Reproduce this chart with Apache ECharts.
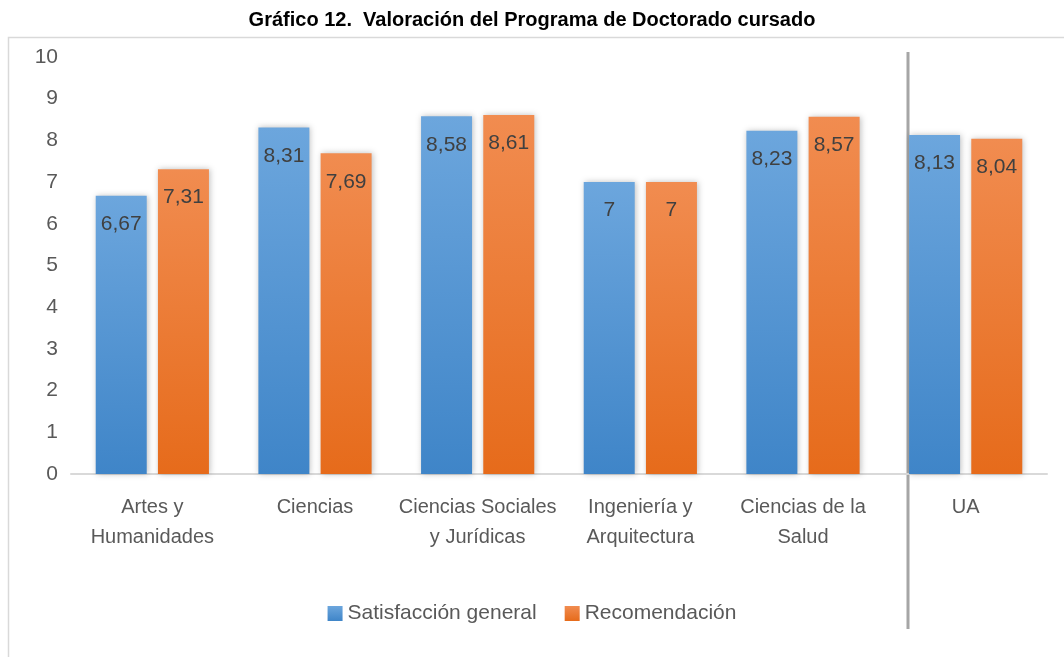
<!DOCTYPE html>
<html>
<head>
<meta charset="utf-8">
<script src="https://cdn.jsdelivr.net/npm/echarts@6/dist/echarts.min.js"></script>
<style>
  html, body { margin: 0; padding: 0; background: #fff; }
  #chart { width: 1064px; height: 657px; }
</style>
</head>
<body>
<div id="chart"></div>
<script>
var categories = ['Artes y\nHumanidades', 'Ciencias', 'Ciencias Sociales\ny Jurídicas', 'Ingeniería y\nArquitectura', 'Ciencias de la\nSalud', 'UA'];
var satisfaccion = [6.67, 8.31, 8.58, 7, 8.23, 8.13];
var recomendacion = [7.31, 7.69, 8.61, 7, 8.57, 8.04];
var yTicks = [0, 10, 1];

var font = 'Liberation Sans';

var chart = echarts.init(document.getElementById('chart'));

var grad = function (top, bottom) {
    return new echarts.graphic.LinearGradient(0, 0, 0, 1, [
        {offset: 0, color: top},
        {offset: 1, color: bottom}
    ]);
};

var barLabel = {
    show: true,
    position: 'insideTop',
    distance: 18,
    color: '#404040',
    fontFamily: font,
    fontSize: 21,
    formatter: function (p) {
        return String(p.value).replace('.', ',');
    }
};

var option = {
    backgroundColor: '#fff',
    animation: false,
    title: {
        text: 'Gráfico 12.  Valoración del Programa de Doctorado cursado',
        left: 'center',
        top: 5,
        textStyle: {fontFamily: font, fontSize: 20, fontWeight: 'bold', color: '#000'}
    },
    legend: {
        bottom: 28,
        left: 'center',
        itemWidth: 15,
        itemHeight: 15,
        itemGap: 28,
        icon: 'rect',
        textStyle: {fontFamily: font, fontSize: 21, color: '#595959'},
        data: ['Satisfacción general', 'Recomendación']
    },
    grid: {left: 71, right: 17, top: 57, bottom: 183, containLabel: false},
    xAxis: {
        type: 'category',
        data: categories,
        axisLine: {lineStyle: {color: '#d9d9d9', width: 2}},
        axisTick: {show: false},
        axisLabel: {
            fontFamily: font, fontSize: 20, color: '#595959',
            margin: 18, lineHeight: 30, interval: 0
        }
    },
    yAxis: {
        type: 'value',
        min: yTicks[0],
        max: yTicks[1],
        interval: yTicks[2],
        axisLine: {show: false},
        axisTick: {show: false},
        splitLine: {show: false},
        axisLabel: {fontFamily: font, fontSize: 21, color: '#595959', margin: 13}
    },
    series: [
        {
            name: 'Satisfacción general',
            type: 'bar',
            data: satisfaccion,
            barWidth: 51,
            barGap: '22%',
            itemStyle: {
                color: grad('#6ca6dd', '#3f85c8'),
                shadowColor: 'rgba(0,0,0,0.25)',
                shadowBlur: 6,
                shadowOffsetX: 1
            },
            label: barLabel
        },
        {
            name: 'Recomendación',
            type: 'bar',
            data: recomendacion,
            barWidth: 51,
            itemStyle: {
                color: grad('#f18c50', '#e66b1b'),
                shadowColor: 'rgba(0,0,0,0.25)',
                shadowBlur: 6,
                shadowOffsetX: 1
            },
            label: barLabel
        }
    ]
};

chart.setOption(option);

// frame, and the separator drawn just left of the UA bars
var xUA = chart.convertToPixel({xAxisIndex: 0}, 5);
var sepX = Math.round(xUA - 58);

chart.setOption({
    graphic: [
        {
            type: 'polyline',
            shape: {points: [[8.5, 657], [8.5, 37.5], [1064, 37.5]]},
            style: {stroke: '#d9d9d9', lineWidth: 1.5, fill: null},
            silent: true
        },
        {
            type: 'line',
            shape: {x1: sepX, y1: 52, x2: sepX, y2: 629},
            style: {stroke: '#a6a6a6', lineWidth: 3},
            silent: true
        }
    ]
});
</script>
</body>
</html>
